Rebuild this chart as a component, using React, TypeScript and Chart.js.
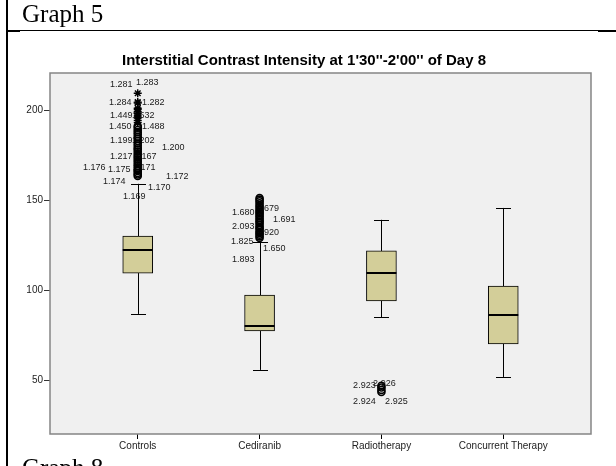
import React, { useEffect, useRef } from 'react';
import { Chart, registerables } from 'chart.js';

Chart.register(...registerables);

const SANS = "'Liberation Sans', Arial, Helvetica, sans-serif";
const SERIF = "'Liberation Serif', 'Times New Roman', serif";

const TITLE = "Interstitial Contrast Intensity at 1'30''-2'00'' of Day 8";

// Box-plot summary per group
const categories = ['Controls', 'Cediranib', 'Radiotherapy', 'Concurrent Therapy'];
const q1 = [109.4, 77.2, 93.9, 70.0];
const medians = [122.2, 80.0, 109.4, 86.0];
const q3 = [130.0, 97.2, 121.7, 102.2];
const whiskerLow = [86.7, 55.6, 85.0, 51.7];
const whiskerHigh = [159.0, 126.5, 139.0, 145.6];

const yTicks = [50, 100, 150, 200];

// Outliers (circles) and extremes (stars)
const controlsOutliers = [
  163.3, 164.2, 165.0, 166.1, 166.7, 167.8, 168.9, 170.0, 171.2, 172.4, 173.5, 174.4, 175.6,
  176.8, 178.0, 178.9, 180.2, 181.4, 182.8, 184.0, 185.1, 186.5, 187.7, 188.9, 190.2, 191.1,
];
const controlsExtremes = [193.0, 194.2, 195.5, 196.7, 198.0, 199.1, 200.3, 201.0, 203.9, 204.4, 209.3];
const cediranibOutliers = [
  128.9, 129.8, 130.7, 131.6, 132.2, 133.4, 134.3, 135.0, 136.1, 137.2, 138.0, 138.9, 139.9,
  140.8, 141.7, 142.6, 143.3, 144.2, 145.0, 146.1, 147.0, 148.2, 149.3, 150.2, 151.1,
];
const radiotherapyOutliers = [46.8, 45.8, 44.5, 43.3];

// Case labels next to the outliers: text and the value level they sit at
const controlsIds = ['1.281', '1.283', '1.284', '1.282', '1.449', '1.532', '1.450', '1.488', '1.199', '1.202',
  '1.200', '1.217', '1.167', '1.176', '1.175', '1.171', '1.172', '1.174', '1.170', '1.169'];
const controlsIdValues = [213.9, 215.0, 204.4, 203.9, 196.7, 196.7, 191.1, 191.1, 182.8, 182.8,
  178.9, 174.4, 174.4, 167.8, 166.7, 167.8, 163.3, 160.0, 157.2, 152.2];
const cediranibIds = ['1.680', '1.679', '1.691', '2.093', '1.920', '1.825', '1.650', '1.893'];
const cediranibIdValues = [143.3, 145.0, 138.9, 135.0, 132.2, 126.7, 122.8, 117.2];
const radiotherapyIds = ['2.923', '2.926', '2.924', '2.925'];
const radiotherapyIdValues = [47.2, 48.3, 37.8, 37.8];

// Horizontal placement of each case label (px from the group centre, left edge of text)
const controlsIdDx = [-27.7, -1.7, -28.7, 4.3, -27.7, -5.7, -28.7, 4.3, -27.7, -5.7,
  24.3, -27.7, -3.7, -54.7, -29.7, -4.7, 28.3, -34.7, 10.3, -14.7];
const cediranibIdDx = [-27.5, -3.2, 13.5, -27.5, -3.2, -28.5, 3.5, -27.5];
const radiotherapyIdDx = [-28.3, -8.3, -28.3, 3.7];

const BOX_FILL = 'rgb(211, 206, 153)';
const PLOT_BG = '#f0f0f0';

const idGroups = [
  { pos: 1, ids: controlsIds, values: controlsIdValues, dx: controlsIdDx },
  { pos: 2, ids: cediranibIds, values: cediranibIdValues, dx: cediranibIdDx },
  { pos: 3, ids: radiotherapyIds, values: radiotherapyIdValues, dx: radiotherapyIdDx },
];

const boxParts = {
  id: 'boxParts',
  beforeDraw(chart: any) {
    const { ctx, chartArea: a } = chart;
    ctx.save();
    ctx.fillStyle = PLOT_BG;
    ctx.fillRect(a.left, a.top, a.right - a.left, a.bottom - a.top);
    ctx.restore();
  },
  beforeDatasetsDraw(chart: any) {
    const { ctx } = chart;
    const xs = chart.scales.x;
    const ys = chart.scales.y;
    ctx.save();
    // case labels
    ctx.font = `9px ${SANS}`;
    ctx.fillStyle = '#1a1a1a';
    ctx.textAlign = 'left';
    ctx.textBaseline = 'middle';
    idGroups.forEach((g) => {
      const cx = xs.getPixelForValue(g.pos);
      g.ids.forEach((t, i) => {
        ctx.fillText(t, cx + g.dx[i], ys.getPixelForValue(g.values[i]));
      });
    });
    // whiskers
    ctx.strokeStyle = '#000';
    ctx.lineWidth = 1;
    categories.forEach((_, i) => {
      const cx = Math.round(xs.getPixelForValue(i + 1)) + 0.5;
      const yLo = ys.getPixelForValue(whiskerLow[i]);
      const yHi = ys.getPixelForValue(whiskerHigh[i]);
      const yQ1 = ys.getPixelForValue(q1[i]);
      const yQ3 = ys.getPixelForValue(q3[i]);
      ctx.beginPath();
      ctx.moveTo(cx, yQ3);
      ctx.lineTo(cx, yHi);
      ctx.moveTo(cx, yQ1);
      ctx.lineTo(cx, yLo);
      ctx.moveTo(cx - 7.5, Math.round(yHi) + 0.5);
      ctx.lineTo(cx + 7.5, Math.round(yHi) + 0.5);
      ctx.moveTo(cx - 7.5, Math.round(yLo) + 0.5);
      ctx.lineTo(cx + 7.5, Math.round(yLo) + 0.5);
      ctx.stroke();
    });
    ctx.restore();
  },
  afterDatasetsDraw(chart: any) {
    const { ctx, chartArea: a } = chart;
    const xs = chart.scales.x;
    const ys = chart.scales.y;
    ctx.save();
    // medians
    ctx.strokeStyle = '#000';
    ctx.lineWidth = 2;
    categories.forEach((_, i) => {
      const cx = xs.getPixelForValue(i + 1);
      const ym = Math.round(ys.getPixelForValue(medians[i]));
      ctx.beginPath();
      ctx.moveTo(cx - 15, ym);
      ctx.lineTo(cx + 15, ym);
      ctx.stroke();
    });
    // plot frame
    ctx.strokeStyle = '#858585';
    ctx.lineWidth = 1.5;
    ctx.strokeRect(a.left, a.top, a.right - a.left, a.bottom - a.top);
    // title
    ctx.font = `bold 15px ${SANS}`;
    ctx.fillStyle = '#000';
    ctx.textAlign = 'center';
    ctx.textBaseline = 'alphabetic';
    ctx.fillText(TITLE, chart.width / 2 - 4, a.top - 8);
    ctx.restore();
  },
};

export default function App() {
  const ref = useRef<HTMLCanvasElement>(null);

  useEffect(() => {
    const outlierStyle = {
      type: 'scatter' as const,
      pointStyle: 'circle',
      radius: 3.5,
      borderColor: '#000',
      borderWidth: 1.6,
      backgroundColor: 'rgba(0,0,0,0)',
      order: 0,
    };
    const chart = new Chart(ref.current!, {
      type: 'bar',
      data: {
        datasets: [
          {
            type: 'bar',
            data: categories.map((_, i) => ({ x: i + 1, y: [q1[i], q3[i]] })) as any,
            backgroundColor: BOX_FILL,
            borderColor: '#000',
            borderWidth: 1,
            borderSkipped: false,
            barThickness: 30,
            order: 1,
          },
          { ...outlierStyle, data: controlsOutliers.map((v) => ({ x: 1, y: v })) },
          {
            ...outlierStyle,
            pointStyle: 'star',
            radius: 4,
            borderWidth: 1.4,
            data: controlsExtremes.map((v) => ({ x: 1, y: v })),
          },
          { ...outlierStyle, data: cediranibOutliers.map((v) => ({ x: 2, y: v })) },
          { ...outlierStyle, data: radiotherapyOutliers.map((v) => ({ x: 3, y: v })) },
        ] as any,
      },
      options: {
        animation: false,
        responsive: false,
        devicePixelRatio: 1,
        events: [],
        layout: { padding: { top: 73, right: 25, bottom: 0, left: 0 } },
        plugins: {
          legend: { display: false },
          tooltip: { enabled: false },
          title: { display: false },
        },
        scales: {
          x: {
            type: 'linear',
            min: 0.28,
            max: 4.72,
            offset: false,
            afterBuildTicks: (s: any) => {
              s.ticks = categories.map((_, i) => ({ value: i + 1 }));
            },
            afterFit: (s: any) => {
              s.height = 32;
            },
            ticks: {
              callback: (v: any) => categories[Math.round(Number(v)) - 1] ?? '',
              autoSkip: false,
              maxRotation: 0,
              font: { family: SANS, size: 10 },
              color: '#222',
              padding: 1,
            },
            grid: { offset: false, drawOnChartArea: false, tickLength: 5, tickColor: '#000', tickWidth: 1 },
            border: { display: false },
          },
          y: {
            type: 'linear',
            min: 20,
            max: 220.56,
            afterBuildTicks: (s: any) => {
              s.ticks = yTicks.map((v) => ({ value: v }));
            },
            afterFit: (s: any) => {
              s.width = 50;
            },
            ticks: {
              font: { family: SANS, size: 10 },
              color: '#222',
              padding: 1,
            },
            grid: { drawOnChartArea: false, tickLength: 6, tickColor: '#333', tickWidth: 1 },
            border: { display: false },
          },
        },
      } as any,
      plugins: [boxParts],
    });
    return () => chart.destroy();
  }, []);

  return (
    <div
      style={{
        position: 'fixed',
        left: 0,
        top: 0,
        width: 616,
        height: 466,
        background: '#fff',
        overflow: 'hidden',
      }}
    >
      <canvas
        ref={ref}
        width={616}
        height={466}
        style={{ position: 'absolute', left: 0, top: 0, width: 616, height: 466 }}
      />
      <div style={{ position: 'absolute', left: 6, top: 0, width: 2, height: 466, background: '#000' }} />
      <div style={{ position: 'absolute', left: 6, top: 30, width: 610, height: 1, background: '#000' }} />
      <div style={{ position: 'absolute', left: 6, top: 30, width: 14, height: 2, background: '#000' }} />
      <div style={{ position: 'absolute', left: 598, top: 30, width: 18, height: 2, background: '#000' }} />
      <div
        style={{
          position: 'absolute',
          left: 22,
          top: 1,
          font: `25px/25px ${SERIF}`,
          color: '#000',
          whiteSpace: 'nowrap',
        }}
      >
        Graph 5
      </div>
      <div
        style={{
          position: 'absolute',
          left: 22,
          top: 455,
          font: `25px/25px ${SERIF}`,
          color: '#000',
          whiteSpace: 'nowrap',
        }}
      >
        Graph 8
      </div>
    </div>
  );
}
